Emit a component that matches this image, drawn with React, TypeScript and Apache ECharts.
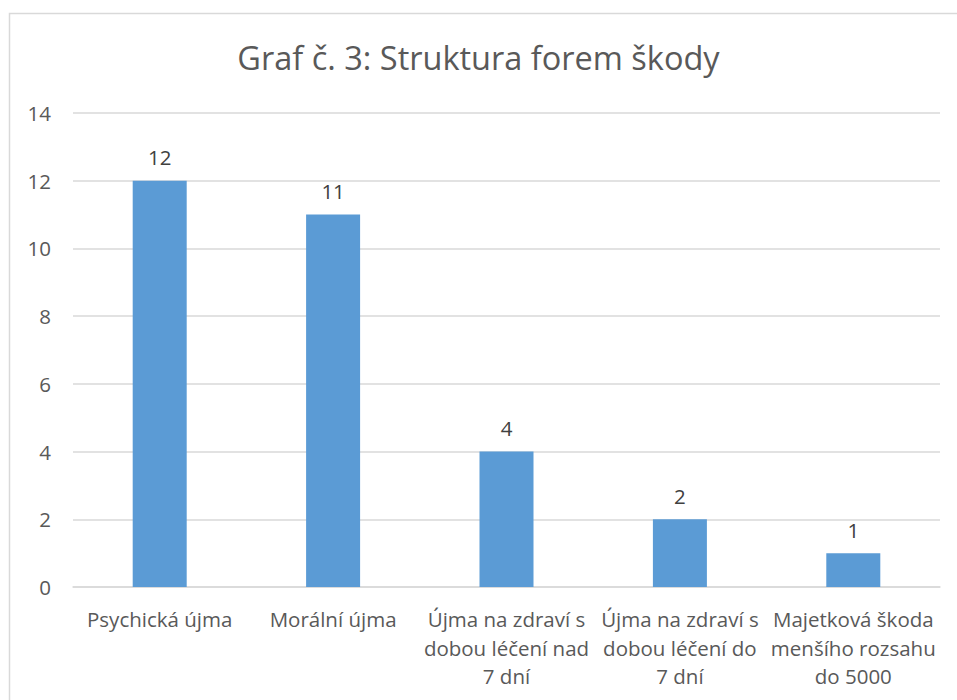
import React, { useEffect, useRef } from "react";
import * as echarts from "echarts";

const categories = [
  "Psychická újma",
  "Morální újma",
  "Újma na zdraví s\ndobou léčení nad\n7 dní",
  "Újma na zdraví s\ndobou léčení do\n7 dní",
  "Majetková škoda\nmenšího rozsahu\ndo 5000",
];
const values = [12, 11, 4, 2, 1];
const titleText = "Graf č. 3: Struktura forem škody";

const FONT = "'Open Sans', sans-serif";
const TXT = "#595959";

export default function App() {
  const ref = useRef<HTMLDivElement>(null);
  useEffect(() => {
    document.body.style.margin = "0";
    const chart = echarts.init(ref.current!, undefined, { renderer: "svg" });
    chart.setOption({
      animation: false,
      backgroundColor: "#ffffff",
      title: {
        text: titleText,
        left: "center",
        top: 36,
        textStyle: { fontFamily: FONT, fontSize: 32.5, fontWeight: "normal", color: TXT },
      },
      graphic: [
        {
          type: "rect",
          shape: { x: 9.5, y: 13.5, width: 960, height: 700 },
          style: { fill: "none", stroke: "#d9d9d9", lineWidth: 1.5 },
          silent: true,
        },
      ],
      grid: { left: 73, right: 17, top: 113, bottom: 113, containLabel: false },
      xAxis: {
        type: "category",
        data: categories,
        axisLine: { show: true, lineStyle: { color: "#d9d9d9", width: 1.5 } },
        axisTick: { show: false },
        axisLabel: {
          interval: 0,
          fontFamily: FONT,
          fontSize: 20.5,
          color: TXT,
          lineHeight: 28.5,
          margin: 18,
          align: "center",
        },
      },
      yAxis: {
        type: "value",
        min: 0,
        max: 14,
        interval: 2,
        axisLine: { show: false },
        axisTick: { show: false },
        splitLine: { lineStyle: { color: "#d9d9d9", width: 1.5 } },
        axisLabel: { fontFamily: FONT, fontSize: 20.5, color: TXT, margin: 22 },
      },
      series: [
        {
          type: "bar",
          data: values,
          barWidth: 54,
          itemStyle: { color: "#5b9bd5" },
          label: {
            show: true,
            position: "top",
            distance: 13,
            fontFamily: FONT,
            fontSize: 20.5,
            color: "#404040",
          },
        },
      ],
    });
    return () => chart.dispose();
  }, []);
  return <div ref={ref} style={{ width: 957, height: 700 }} />;
}
